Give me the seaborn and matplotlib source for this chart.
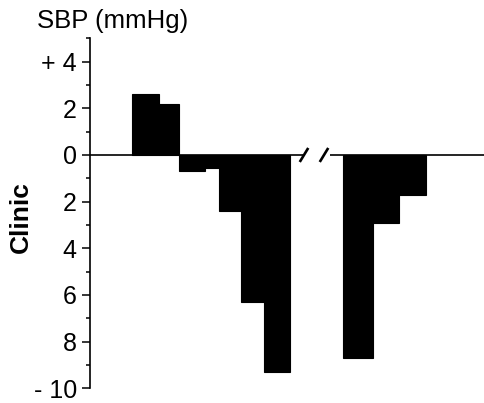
import matplotlib
matplotlib.use("Agg")
import matplotlib.pyplot as plt
from matplotlib.ticker import FixedLocator
import pandas as pd
import seaborn as sns

# Change in clinic systolic pressure (mmHg) per interval
group1_change = [2.6, 2.2, -0.7, -0.55, -2.4, -6.3, -9.3]
group2_change = [-8.7, -2.9, -1.7]

# Interval boundaries within each group (relative units, bars have unequal widths)
group1_edges = [0.0, 1.09, 1.88, 2.92, 3.49, 4.35, 5.29, 6.32]
group2_edges = [0.0, 1.2, 2.25, 3.32]

y_ticks = [-10, -8, -6, -4, -2, 0, 2, 4]
y_tick_labels = ["- 10", "8", "6", "4", "2", "0", "2", "+ 4"]

sns.set_style("white")
plt.rcParams["font.family"] = ["Liberation Sans", "DejaVu Sans"]
plt.rcParams.update({"text.color": "black", "axes.labelcolor": "black",
                     "xtick.color": "black", "ytick.color": "black"})

fig = plt.figure(figsize=(4.85, 4.03), dpi=100)
ax = fig.add_axes([90 / 485, 1 - 388.3 / 403, 1 - 90 / 485, (388.3 - 38.3) / 403])

x_max = 15.8
g1_start, g2_start = 1.68, 10.11
brk_left, brk_right = 8.52, 9.6


def draw_group(values, edges, start):
    edges = [e + start for e in edges]
    centers = [(a + b) / 2 for a, b in zip(edges[:-1], edges[1:])]
    df = pd.DataFrame({"x": centers, "w": values})
    sns.histplot(data=df, x="x", weights="w", bins=edges, stat="count",
                 color="black", alpha=1, ax=ax)


draw_group(group1_change, group1_edges, g1_start)
draw_group(group2_change, group2_edges, g2_start)
for patch in ax.patches:
    patch.set_edgecolor("black")
    patch.set_linewidth(0.8)

# zero line with an axis break between the two groups
ax.plot([0, brk_left], [0, 0], color="black", lw=1.2, solid_capstyle="butt")
ax.plot([brk_right, x_max], [0, 0], color="black", lw=1.2, solid_capstyle="butt")
for xc in (8.56, 9.36):
    ax.plot([xc - 0.17, xc + 0.17], [-0.3, 0.3], color="black", lw=1.9,
            solid_capstyle="butt")

ax.set_xlim(0, x_max)
ax.set_ylim(-10, 5)
ax.set_xlabel("")
ax.set_ylabel("")
ax.set_xticks([])

for side in ("top", "right", "bottom"):
    ax.spines[side].set_visible(False)
ax.spines["left"].set_linewidth(1.2)
ax.spines["left"].set_color("black")

ax.yaxis.set_major_locator(FixedLocator(y_ticks))
ax.set_yticklabels(y_tick_labels)
ax.yaxis.set_minor_locator(FixedLocator([-9, -7, -5, -3, -1, 1, 3, 5]))
ax.tick_params(axis="y", which="major", direction="out", length=5.5, width=1.1,
               color="black", labelsize=18, pad=4, left=True)
ax.tick_params(axis="y", which="minor", direction="out", length=3, width=1.1,
               color="black", left=True)

fig.text(37 / 485, 1 - 28 / 403, "SBP (mmHg)", fontsize=18.5, va="baseline",
         ha="left")
fig.text(21 / 485, 1 - 217 / 403, "Clinic", fontsize=19, fontweight="bold",
         rotation=90, ha="center", va="center")

fig.savefig("out.png", dpi=100)
